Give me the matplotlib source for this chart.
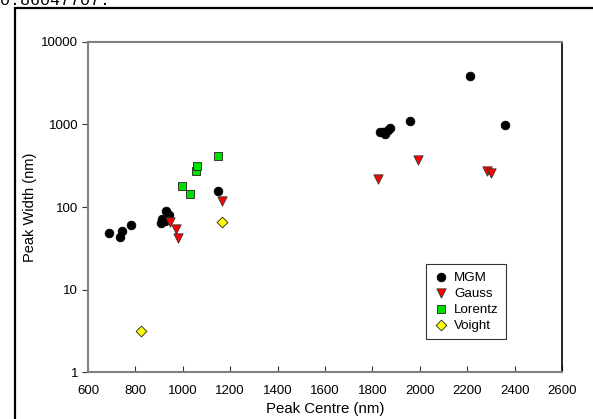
import matplotlib
matplotlib.use("Agg")
import matplotlib.pyplot as plt
from matplotlib.patches import Rectangle

plt.rcParams['font.family'] = ['Liberation Sans', 'DejaVu Sans']

mgm_x = [687, 735, 743, 781, 910, 912, 925, 930, 940, 1147, 1830, 1845, 1855, 1865, 1875, 1957, 2212, 2358]
mgm_y = [48.8, 43, 51.6, 60, 64, 72, 68, 90, 80, 158, 820, 800, 760, 850, 900, 1100, 3870, 995]

gauss_x = [946, 970, 980, 1167, 1824, 1994, 2285, 2299]
gauss_y = [65, 53.7, 41.7, 118, 218, 371, 273, 260]

lor_x = [997, 1030, 1054, 1060, 1147]
lor_y = [181, 144, 271, 317, 411]

voi_x = [825, 1164]
voi_y = [3.17, 65.8]

xticks = [600, 800, 1000, 1200, 1400, 1600, 1800, 2000, 2200, 2400, 2600]
yticks = [1, 10, 100, 1000, 10000]
ytick_labels = ['1', '10', '100', '1000', '10000']

W, H = 593, 419
fig = plt.figure(figsize=(W / 100, H / 100), dpi=100)
ax = fig.add_axes([88 / W, 1 - 372 / H, (562 - 88) / W, (372 - 42) / H])

ax.scatter(mgm_x, mgm_y, marker='o', s=40, c='black', edgecolors='black', linewidths=0.5, label='MGM', zorder=3)
ax.scatter(gauss_x, gauss_y, marker='v', s=45, c='#ff0000', edgecolors='#333333', linewidths=0.6, label='Gauss', zorder=3)
ax.scatter(lor_x, lor_y, marker='s', s=30, c='#00e000', edgecolors='#222222', linewidths=0.6, label='Lorentz', zorder=3)
ax.scatter(voi_x, voi_y, marker='D', s=30, c='#ffff00', edgecolors='#222222', linewidths=0.6, label='Voight', zorder=3)

ax.set_yscale('log')
ax.set_xlim(600, 2600)
ax.set_ylim(1, 10000)
ax.set_xticks(xticks)
ax.set_yticks(yticks)
ax.set_yticklabels(ytick_labels)
ax.yaxis.set_minor_locator(matplotlib.ticker.NullLocator())
ax.tick_params(axis='x', direction='in', length=4, width=0.8, color='#333333', labelsize=9.5, pad=9)
ax.tick_params(axis='y', direction='out', length=4, width=0.8, color='#333333', labelsize=9.5, pad=3)

for s in ['left', 'bottom', 'top']:
    ax.spines[s].set_color('#808080')
    ax.spines[s].set_linewidth(1.5)
ax.spines['right'].set_color('black')
ax.spines['right'].set_linewidth(1.2)

ax.set_xlabel('Peak Centre (nm)', fontsize=10.8, labelpad=4)
ax.set_ylabel('Peak Width (nm)', fontsize=10.5, labelpad=3)

leg = ax.legend(loc='upper left', bbox_to_anchor=(0.713, 0.327), fontsize=9.6,
                frameon=True, fancybox=False, edgecolor='black', handletextpad=0.35,
                borderpad=0.55, labelspacing=0.28, handlelength=1.2, borderaxespad=0)
leg.get_frame().set_linewidth(0.8)

# outer frame
fig.patches.append(Rectangle((15 / W, -0.1), 1.2, 1 - 8 / H + 0.1, transform=fig.transFigure,
                             fill=False, edgecolor='black', linewidth=1.6))

fig.text(0.0, 1 - 5 / H, '0.86047707.', family=['Liberation Mono', 'DejaVu Sans Mono'],
         fontsize=12, va='baseline', ha='left')

fig.savefig('out.png', dpi=100)
